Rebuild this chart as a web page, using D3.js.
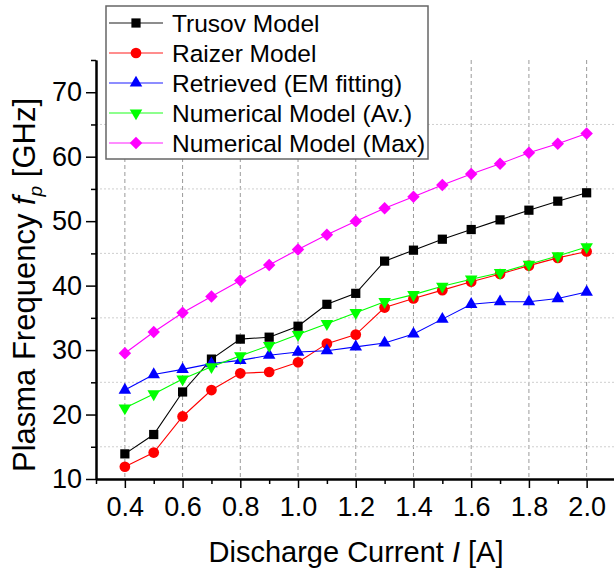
<!DOCTYPE html>
<html>
<head>
<meta charset="utf-8">
<script src="https://cdn.jsdelivr.net/npm/d3@7"></script>
<style>
  body { margin: 0; background: #fff; }
  text { font-family: "Liberation Sans", Arial, sans-serif; fill: #000; }
</style>
</head>
<body>
<script>
const width = 614;
const height = 572;
const margin = { top: 60, left: 96, right: -1.5, bottom: 93 };

// data
const current = [0.4, 0.5, 0.6, 0.7, 0.8, 0.9, 1.0, 1.1, 1.2, 1.3, 1.4, 1.5, 1.6, 1.7, 1.8, 1.9, 2.0];
const trusov = [13.9, 16.9, 23.5, 28.6, 31.7, 32.0, 33.7, 37.1, 38.8, 43.8, 45.5, 47.2, 48.7, 50.2, 51.7, 53.1, 54.4];
const raizer = [11.9, 14.1, 19.7, 23.8, 26.4, 26.6, 28.1, 31.0, 32.4, 36.6, 38.0, 39.3, 40.6, 41.8, 43.1, 44.3, 45.3];
const retrieved = [23.8, 26.2, 27.0, 27.9, 28.4, 29.2, 29.7, 29.9, 30.5, 31.1, 32.5, 34.8, 37.1, 37.5, 37.5, 38.0, 39.0];
const numAv = [21.0, 23.2, 25.5, 27.4, 29.1, 30.7, 32.4, 34.1, 35.8, 37.5, 38.6, 39.9, 41.0, 42.0, 43.3, 44.6, 46.0];
const numMax = [29.5, 32.8, 35.8, 38.3, 40.8, 43.2, 45.6, 47.9, 50.0, 52.0, 53.8, 55.6, 57.3, 58.9, 60.6, 62.0, 63.6];

const seriesNames = ['Trusov Model', 'Raizer Model', 'Retrieved (EM fitting)', 'Numerical Model (Av.)', 'Numerical Model (Max)'];
const seriesValues = [trusov, raizer, retrieved, numAv, numMax];
const seriesColors = ['#000000', '#ff0000', '#0000ff', '#00ff00', '#ff00ff'];

const xTicks = [0.4, 0.6, 0.8, 1.0, 1.2, 1.4, 1.6, 1.8, 2.0];
const xMinor = [0.3, 0.5, 0.7, 0.9, 1.1, 1.3, 1.5, 1.7, 1.9, 2.1];
const yTicks = [10, 20, 30, 40, 50, 60, 70];
const yMinor = [15, 25, 35, 45, 55, 65, 75];

const board = {
  width: width - (margin.left + margin.right),
  height: height - (margin.top + margin.bottom),
};

const svg = d3.select('body')
  .append('svg')
    .attr('width', width)
    .attr('height', height);

const g = svg.append('g')
  .attr('transform', `translate(${margin.left}, ${margin.top})`);

const x = d3.scaleLinear().domain([0.3, 2.1]).range([0, board.width]);
const y = d3.scaleLinear().domain([10, 75]).range([board.height, 0]);

// grid
g.append('g')
  .selectAll('line')
  .data(xTicks)
  .join('line')
    .attr('x1', d => x(d)).attr('x2', d => x(d))
    .attr('y1', 0).attr('y2', board.height)
    .attr('stroke', '#9a9a9a')
    .attr('stroke-dasharray', '4,3');

g.append('g')
  .selectAll('line')
  .data(yMinor.filter(d => d < 75))
  .join('line')
    .attr('x1', 0).attr('x2', board.width)
    .attr('y1', d => y(d)).attr('y2', d => y(d))
    .attr('stroke', '#cfcfcf')
    .attr('stroke-dasharray', '2,2');

// axes
const styleAxis = (sel) => {
  sel.selectAll('.domain').attr('stroke-width', 2);
  sel.selectAll('.tick line').attr('stroke-width', 1.5);
  sel.selectAll('text').attr('font-size', 27);
};

g.append('g')
  .attr('transform', `translate(0, ${board.height})`)
  .call(d3.axisBottom(x).tickValues(xMinor).tickSizeInner(5).tickSizeOuter(0).tickFormat(''))
  .call(styleAxis);

g.append('g')
  .attr('transform', `translate(0, ${board.height})`)
  .call(d3.axisBottom(x).tickValues(xTicks).tickSizeInner(9).tickSizeOuter(0).tickPadding(9)
    .tickFormat(d3.format('.1f')))
  .call(styleAxis);

g.append('g')
  .call(d3.axisLeft(y).tickValues(yMinor).tickSizeInner(5).tickSizeOuter(0).tickFormat(''))
  .call(styleAxis);

g.append('g')
  .call(d3.axisLeft(y).tickValues(yTicks).tickSizeInner(10).tickSizeOuter(0).tickPadding(4))
  .call(styleAxis);

g.selectAll('.tick text').attr('font-family', '"Liberation Sans", Arial, sans-serif').attr('fill', '#000');

// markers
const symbolFor = [
  { type: d3.symbolSquare, size: 85, rotate: 0 },
  { type: d3.symbolCircle, size: 90, rotate: 0 },
  { type: d3.symbolTriangle, size: 68, rotate: 0 },
  { type: d3.symbolTriangle, size: 68, rotate: 180 },
  { type: d3.symbolSquare, size: 78, rotate: 45 },
];

const line = d3.line()
  .x((d, i) => x(current[i]))
  .y(d => y(d));

seriesValues.forEach((vals, s) => {
  const sg = g.append('g');
  sg.append('path')
    .datum(vals)
    .attr('fill', 'none')
    .attr('stroke', seriesColors[s])
    .attr('stroke-width', 1.1)
    .attr('d', line);
  const sym = symbolFor[s];
  sg.selectAll('path.pt')
    .data(vals)
    .join('path')
      .attr('class', 'pt')
      .attr('d', d3.symbol().type(sym.type).size(sym.size))
      .attr('fill', seriesColors[s])
      .attr('transform', (d, i) => `translate(${x(current[i])}, ${y(d)}) rotate(${sym.rotate})`);
});

// legend
const legend = svg.append('g');
legend.append('rect')
  .attr('x', 106).attr('y', 6)
  .attr('width', 322).attr('height', 153)
  .attr('fill', '#fff')
  .attr('stroke', '#666')
  .attr('stroke-width', 1.5);

const rows = legend.selectAll('g.row')
  .data(seriesNames)
  .join('g')
    .attr('class', 'row')
    .attr('transform', (d, i) => `translate(0, ${23 + i * 30})`);

rows.append('line')
  .attr('x1', 109).attr('x2', 163)
  .attr('stroke', (d, i) => seriesColors[i])
  .attr('stroke-opacity', 0.6)
  .attr('stroke-width', 1.5);

rows.append('path')
  .attr('d', (d, i) => d3.symbol().type(symbolFor[i].type).size(symbolFor[i].size)())
  .attr('fill', (d, i) => seriesColors[i])
  .attr('transform', (d, i) => `translate(136, 0) rotate(${symbolFor[i].rotate})`);

rows.append('text')
  .attr('x', 172)
  .attr('y', 9)
  .attr('font-size', 24.5)
  .text(d => d);

// axis titles
const xt = svg.append('text')
  .attr('x', 356)
  .attr('y', 562)
  .attr('text-anchor', 'middle')
  .attr('font-size', 29);
xt.append('tspan').text('Discharge Current ');
xt.append('tspan').attr('font-style', 'italic').text('I');
xt.append('tspan').text(' [A]');

const yt = svg.append('text')
  .attr('transform', 'translate(35, 285) rotate(-90)')
  .attr('text-anchor', 'middle')
  .attr('font-size', 31);
yt.append('tspan').text('Plasma Frequency ');
yt.append('tspan').attr('font-style', 'italic').text('f');
yt.append('tspan').attr('font-style', 'italic').attr('font-size', 19).attr('dy', 7).text('p');
yt.append('tspan').attr('dy', -7).text(' [GHz]');
</script>
</body>
</html>
